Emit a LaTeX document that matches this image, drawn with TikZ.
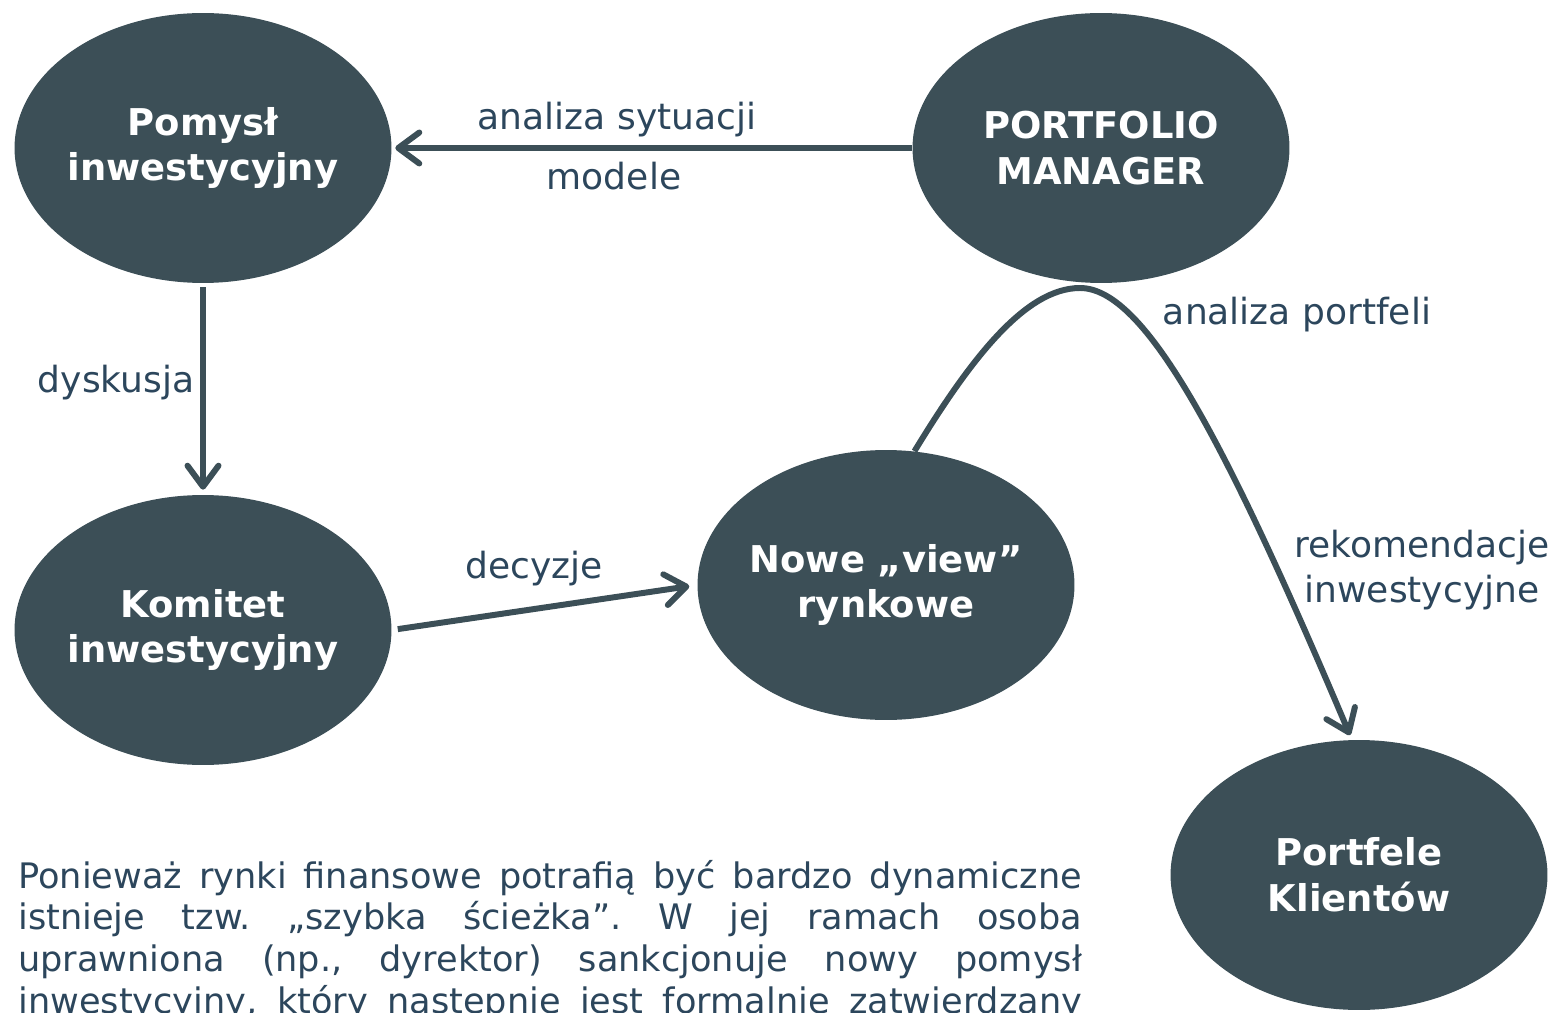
\documentclass[tikz,border=0pt]{standalone}
\usepackage{fontspec}
\setmainfont{DejaVu Sans}
\usepackage{tikz}
\usetikzlibrary{arrows.meta,shapes.geometric}
\definecolor{slate}{RGB}{60,79,87}
\definecolor{ink}{RGB}{44,70,92}

\begin{document}
\begin{tikzpicture}[x=0.02cm, y=-0.02cm,
every node/.style={inner sep=0pt},
bubble/.style={ellipse, fill=slate, text=white, minimum width=7.54cm, minimum height=5.4cm,
	inner xsep=-1cm, align=center, font=\fontsize{21}{26}\selectfont\bfseries},
lbl/.style={text=ink, font=\fontsize{20.5}{26}\selectfont},
flow/.style={draw=slate, line width=3.4pt, -{Straight Barb[length=0.42cm,width=0.62cm,round]}}]
\clip (0,0) rectangle (1557,1013);

%the five stages
\node[bubble] (idea) at (203,148) {Pomysł\\inwestycyjny};
\node[bubble] (pm) at (1101,148) {PORTFOLIO\\MANAGER};
\node[bubble] (kom) at (203,630) {Komitet\\inwestycyjny};
\node[bubble] (view) at (886,585) {Nowe „view”\\rynkowe};
\node[bubble] (client) at (1359,875) {Portfele\\Klientów};

%connectors
\draw[flow, shorten >=0.07cm] (pm) -- (idea);
\draw[flow, shorten <=0.08cm, shorten >=0.1cm] (idea) -- (kom);
\draw[flow, shorten <=0.12cm, shorten >=0.16cm] (kom.east) -- (view.west);
%curve runs under the manager and down to the clients
\coordinate (peak) at (1080,288);
\draw[flow, shorten >=0.1cm] (view.78) .. controls (970,360) and (1025,288) .. (peak)
	.. controls (1145,288) and (1225,440) .. (client.93);

%texts on the connectors
\node[lbl, anchor=base] (sit) at (617,130) {analiza sytuacji};
\node[lbl, anchor=base] (mod) at (614,190) {modele};
\node[lbl, anchor=base] (dys) at (116,392) {dyskusja};
\node[lbl, anchor=base] (dec) at (534,578) {decyzje};
\node[lbl, anchor=base] (port) at (1297,324) {analiza portfeli};
\node[lbl, align=center] (rek) at (1422,570) {rekomendacje\\inwestycyjne};

%note below the diagram, last line runs off the page
\node[lbl, text width=21.28cm, align=justify, anchor=base west,
	font=\fontsize{20}{23.8}\selectfont] (note) at (18,888)
	{\tolerance=10000\hbadness=10000\parindent=0pt\frenchspacing
	Ponieważ rynki finansowe potrafią być bardzo dynamiczne\linebreak
	istnieje tzw. „szybka ścieżka”. W jej ramach osoba\linebreak
	uprawniona (np., dyrektor) sankcjonuje nowy pomysł\linebreak
	inwestycyjny, który następnie jest formalnie zatwierdzany\parfillskip=0pt\par};
\end{tikzpicture}
\end{document}
